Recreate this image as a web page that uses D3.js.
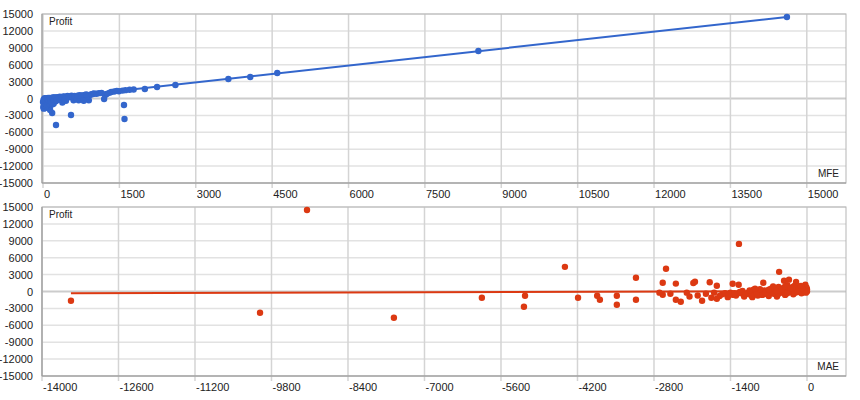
<!DOCTYPE html>
<html><head><meta charset="utf-8">
<script src="https://cdn.jsdelivr.net/npm/d3@7"></script>
<style>body{margin:0;background:#fff}text{font-family:"Liberation Sans",Arial,sans-serif;font-size:11px;fill:#222}</style>
</head><body><svg id="c" width="860" height="400"></svg>
<script>
const yTicks=[15000,12000,9000,6000,3000,0,-3000,-6000,-9000,-12000,-15000];
const mfeTicks=[0,1500,3000,4500,6000,7500,9000,10500,12000,13500,15000];
const maeTicks=[-14000,-12600,-11200,-9800,-8400,-7000,-5600,-4200,-2800,-1400,0];
const mfePts=[[14610,14470],[8550,8430],[4600,4530],[4070,3820],[3640,3460],[2600,2400],[2240,2040],[2000,1690],[1780,1600],[1700,1550],[1620,1480],[1560,1400],[1490,1300],[1400,1250],[1340,1150],[1300,1000],[1250,800],[1220,600],[1200,-90],[1590,-1150],[1600,-3640],[1100,950],[1050,850],[980,800],[920,600],[900,-300],[860,350],[820,650],[780,550],[720,600],[700,-300],[650,400],[600,-300],[560,500],[550,-2930],[520,200],[480,450],[450,-400],[420,300],[400,380],[380,-700],[350,150],[330,300],[300,-200],[280,250],[255,-4700],[250,-500],[230,150],[210,-900],[200,200],[190,-1000],[180,-2570],[170,100],[160,-300],[150,-1200],[140,-2040],[130,50],[120,-600],[110,-1500],[100,100],[90,-200],[80,-800],[70,0],[60,-1300],[50,-400],[40,-1700],[30,50],[20,-1000],[10,-200],[5,-1500],[0,-600],[15,-1800],[25,-1200],[35,-300],[45,-900],[55,20],[65,-500],[75,-1100],[85,60],[95,-700],[105,-300],[125,-900],[135,80],[145,-400],[175,-700],[195,120],[215,-200],[240,180],[270,-300],[310,200],[340,-100],[370,250],[430,-100],[500,350],[580,300],[620,450],[680,500],[750,500],[800,-400],[850,700],[950,750],[1000,900],[1150,1000],[1450,1350]];
const maePts=[[-13470,-1640],[-9150,14470],[-10010,-3760],[-7560,-4650],[-5950,-1110],[-5180,-2700],[-5160,-750],[-4430,4380],[-4190,-1110],[-3840,-750],[-3790,-1460],[-3480,-750],[-3480,-2350],[-3130,2430],[-3130,-1460],[-2580,4030],[-2640,1550],[-2400,1400],[-2080,1500],[-1780,1650],[-2050,1730],[-1650,1020],[-1360,1370],[-1250,1200],[-800,1550],[-510,3490],[-420,1900],[-330,2100],[-200,1700],[-1245,8450],[-2640,-580],[-2400,-1460],[-2310,-1820],[-2150,-900],[-2000,-700],[-1920,-1640],[-1750,-1100],[-1650,-1300],[-1550,-500],[-1450,-1000],[-1400,-200],[-1300,-700],[-1200,-300],[-1150,-900],[-1050,-400],[-1000,-1000],[-950,-200],[-900,-700],[-850,100],[-800,-500],[-750,-300],[-700,-800],[-650,200],[-600,-400],[-550,-900],[-500,300],[-450,-200],[-400,-600],[-350,500],[-300,-100],[-250,-500],[-200,700],[-150,100],[-100,-300],[-50,800],[0,400],[-20,-200],[-80,500],[-120,900],[-180,300],[-230,1000],[-280,200],[-380,400],[-480,-100],[-580,600],[-680,100],[-780,200],[-880,-100],[-980,300],[-1080,-200],[-1180,100],[-1280,-400],[-1350,-600],[-1500,-300],[-1600,-800],[-1850,-400],[-2200,-200],[-2500,-400],[-2700,-200],[-1700,-200],[-30,1200],[-60,200],[-10,700],[0,0],[-140,600],[-260,800],[-360,1100],[-440,600],[-520,800],[-620,900],[-1120,-500],[-1020,-700],[-920,-400],[-820,-600],[-720,-500],[-620,-300],[-520,-400],[-420,-100],[-320,200],[-220,-200],[-120,300],[-40,100],[-860,400],[-760,-200],[-660,500],[-560,100],[-460,400],[-360,-300],[-270,500],[-170,-100],[-90,600],[-1230,-100],[-1330,-300],[-1430,-500],[-1050,200],[-950,500],[-700,300],[-400,900],[-300,600],[-110,1000]];
const mfeTrend=[[0,-150],[14610,14470]];
const maeTrend=[[-13470,-330],[0,60]];

const svg=d3.select("#c");
function panel(top,bottom,xDomain,xTicks,pts,trend,color,xName){
  const x=d3.scaleLinear().domain(xDomain).range([42,846]);
  const y=d3.scaleLinear().domain([-15000,15000]).range([bottom,top]);
  const g=svg.append("g");
  g.selectAll(".hg").data(yTicks).join("line").attr("x1",42).attr("x2",846)
    .attr("y1",d=>y(d)).attr("y2",d=>y(d)).attr("stroke",d=>d===0?"#ccc":"#e2e2e2").attr("stroke-width",d=>d===0?2:1.5);
  g.selectAll(".vg").data(xTicks).join("line").attr("y1",top).attr("y2",bottom+5)
    .attr("x1",d=>x(d)).attr("x2",d=>x(d)).attr("stroke","#d4d4d4").attr("stroke-width",1.5);
  g.append("rect").attr("x",42).attr("y",top).attr("width",804).attr("height",bottom-top)
    .attr("fill","none").attr("stroke","#b5b5b5");
  g.append("line").attr("x1",42).attr("x2",42).attr("y1",top).attr("y2",bottom).attr("stroke","#999");
  g.append("line").attr("x1",42).attr("x2",846).attr("y1",bottom).attr("y2",bottom).attr("stroke","#999");
  g.selectAll(".yt").data(yTicks).join("text").attr("x",33).attr("y",d=>y(d)+4).attr("text-anchor","end").text(d=>d);
  g.selectAll(".xt").data(xTicks).join("text").attr("x",d=>x(d)+1).attr("y",bottom+15).text(d=>d);
  g.append("text").attr("x",49).attr("y",top+11).text("Profit").style("font-size","10px");
  g.append("text").attr("x",839).attr("y",bottom-6).attr("text-anchor","end").text(xName).style("font-size","10px");
  g.append("path").attr("d",d3.line().x(d=>x(d[0])).y(d=>y(d[1]))(trend)).attr("stroke",color).attr("stroke-width",2).attr("fill","none");
  g.selectAll(".p").data(pts).join("circle").attr("cx",d=>x(d[0])).attr("cy",d=>y(d[1])).attr("r",3.2).attr("fill",color);
}
panel(14,183,[-20,15770],mfeTicks,mfePts,mfeTrend,"#3366cc","MFE");
panel(207,376,[-14000,714],maeTicks,maePts,maeTrend,"#dc3912","MAE");
</script></body></html>
